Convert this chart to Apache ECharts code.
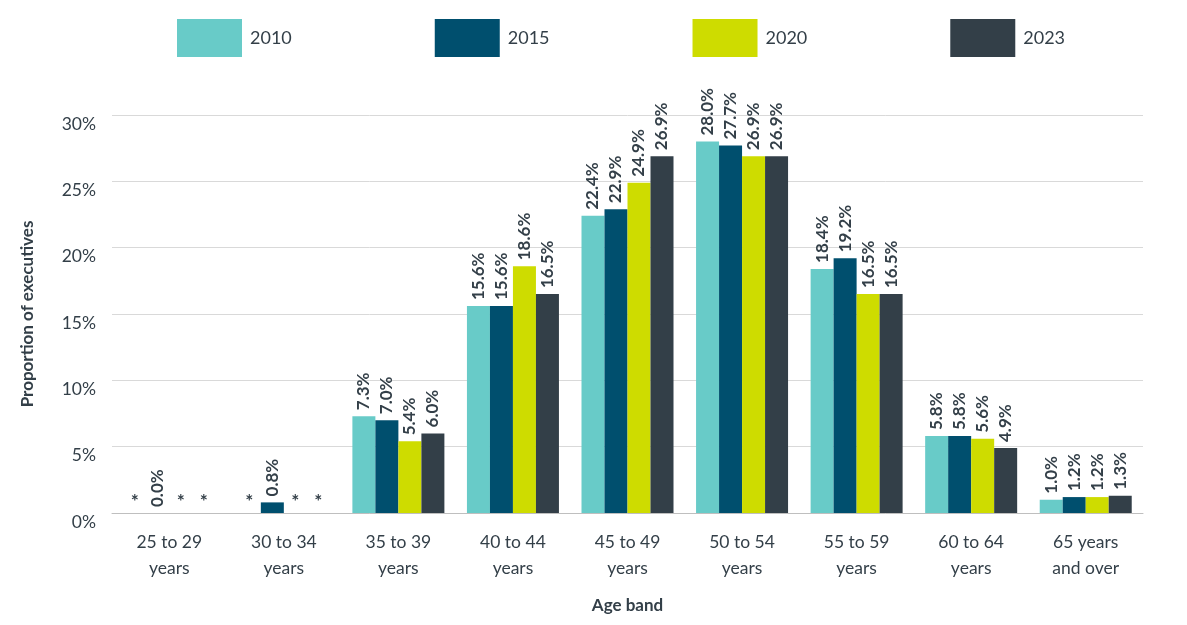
<!DOCTYPE html>
<html>
<head>
<meta charset="utf-8">
<script src="https://cdn.jsdelivr.net/npm/echarts@6/dist/echarts.min.js"></script>
<style>
html,body{margin:0;padding:0;background:#fff;}
#chart{width:1187px;height:625px;}
</style>
</head>
<body>
<div id="chart"></div>
<script>
var categories = ["25 to 29\nyears","30 to 34\nyears","35 to 39\nyears","40 to 44\nyears","45 to 49\nyears","50 to 54\nyears","55 to 59\nyears","60 to 64\nyears","65 years\nand over"];
var seriesNames = ["2010","2015","2020","2023"];
// null = suppressed value shown as "*"
var data2010 = [null, null, 7.3, 15.6, 22.4, 28.0, 18.4, 5.8, 1.0];
var data2015 = [0.0, 0.8, 7.0, 15.6, 22.9, 27.7, 19.2, 5.8, 1.2];
var data2020 = [null, null, 5.4, 18.6, 24.9, 26.9, 16.5, 5.6, 1.2];
var data2023 = [null, null, 6.0, 16.5, 26.9, 26.9, 16.5, 4.9, 1.3];
var colors = ["#68CBC8", "#004F6E", "#CEDC00", "#333F48"];
var yTicks = {min: 0, max: 30, interval: 5};

var FONT = "Lato";
var TXT = "#333F48";

function buildData(arr) {
  return arr.map(function (v) {
    if (v === null) {
      return {
        value: 0,
        itemStyle: {color: "rgba(0,0,0,0)"},
        label: {
          show: true, rotate: 0, formatter: "*", position: "top",
          align: "center", verticalAlign: "bottom", distance: 2,
          fontSize: 19, fontWeight: "bold", color: TXT
        }
      };
    }
    return {value: v};
  });
}

var allData = [data2010, data2015, data2020, data2023];
var series = allData.map(function (arr, i) {
  return {
    name: seriesNames[i],
    type: "bar",
    barWidth: 23,
    barGap: "0%",
    itemStyle: {color: colors[i]},
    label: {
      show: true,
      position: "top",
      rotate: 90,
      align: "left",
      verticalAlign: "middle",
      distance: 6,
      fontFamily: FONT,
      fontSize: 17,
      fontWeight: "bold",
      color: TXT,
      formatter: function (p) { return p.value.toFixed(1) + "%"; }
    },
    data: buildData(arr)
  };
});

var chart = echarts.init(document.getElementById("chart"));
chart.setOption({
  animation: false,
  textStyle: {fontFamily: FONT, color: TXT},
  legend: {
    top: 14,
    left: 172,
    itemWidth: 65,
    itemHeight: 38,
    itemGap: 143,
    icon: "rect",
    textStyle: {fontSize: 18, color: TXT, fontFamily: FONT, padding: [10, 0, 0, 3]},
    data: seriesNames
  },
  grid: {left: 112, right: 44, top: 115, bottom: 112, containLabel: false},
  xAxis: {
    type: "category",
    data: categories,
    name: "Age band",
    nameLocation: "middle",
    nameGap: 84,
    nameTextStyle: {fontSize: 17, fontWeight: "bold", color: TXT, fontFamily: FONT},
    axisLine: {lineStyle: {color: "#BFBFBF"}},
    axisTick: {show: false},
    axisLabel: {fontSize: 17.5, color: TXT, margin: 16, lineHeight: 26, fontFamily: FONT}
  },
  yAxis: {
    type: "value",
    min: yTicks.min,
    max: yTicks.max,
    interval: yTicks.interval,
    name: "Proportion of executives",
    nameLocation: "middle",
    nameGap: 76,
    nameTextStyle: {fontSize: 17, fontWeight: "bold", color: TXT, fontFamily: FONT},
    axisLine: {show: false},
    axisTick: {show: false},
    splitLine: {lineStyle: {color: "#D9D9D9"}},
    axisLabel: {fontSize: 17.5, color: TXT, margin: 16, formatter: "{value}%", fontFamily: FONT, verticalAlign: "top"}
  },
  series: series
});
</script>
</body>
</html>
